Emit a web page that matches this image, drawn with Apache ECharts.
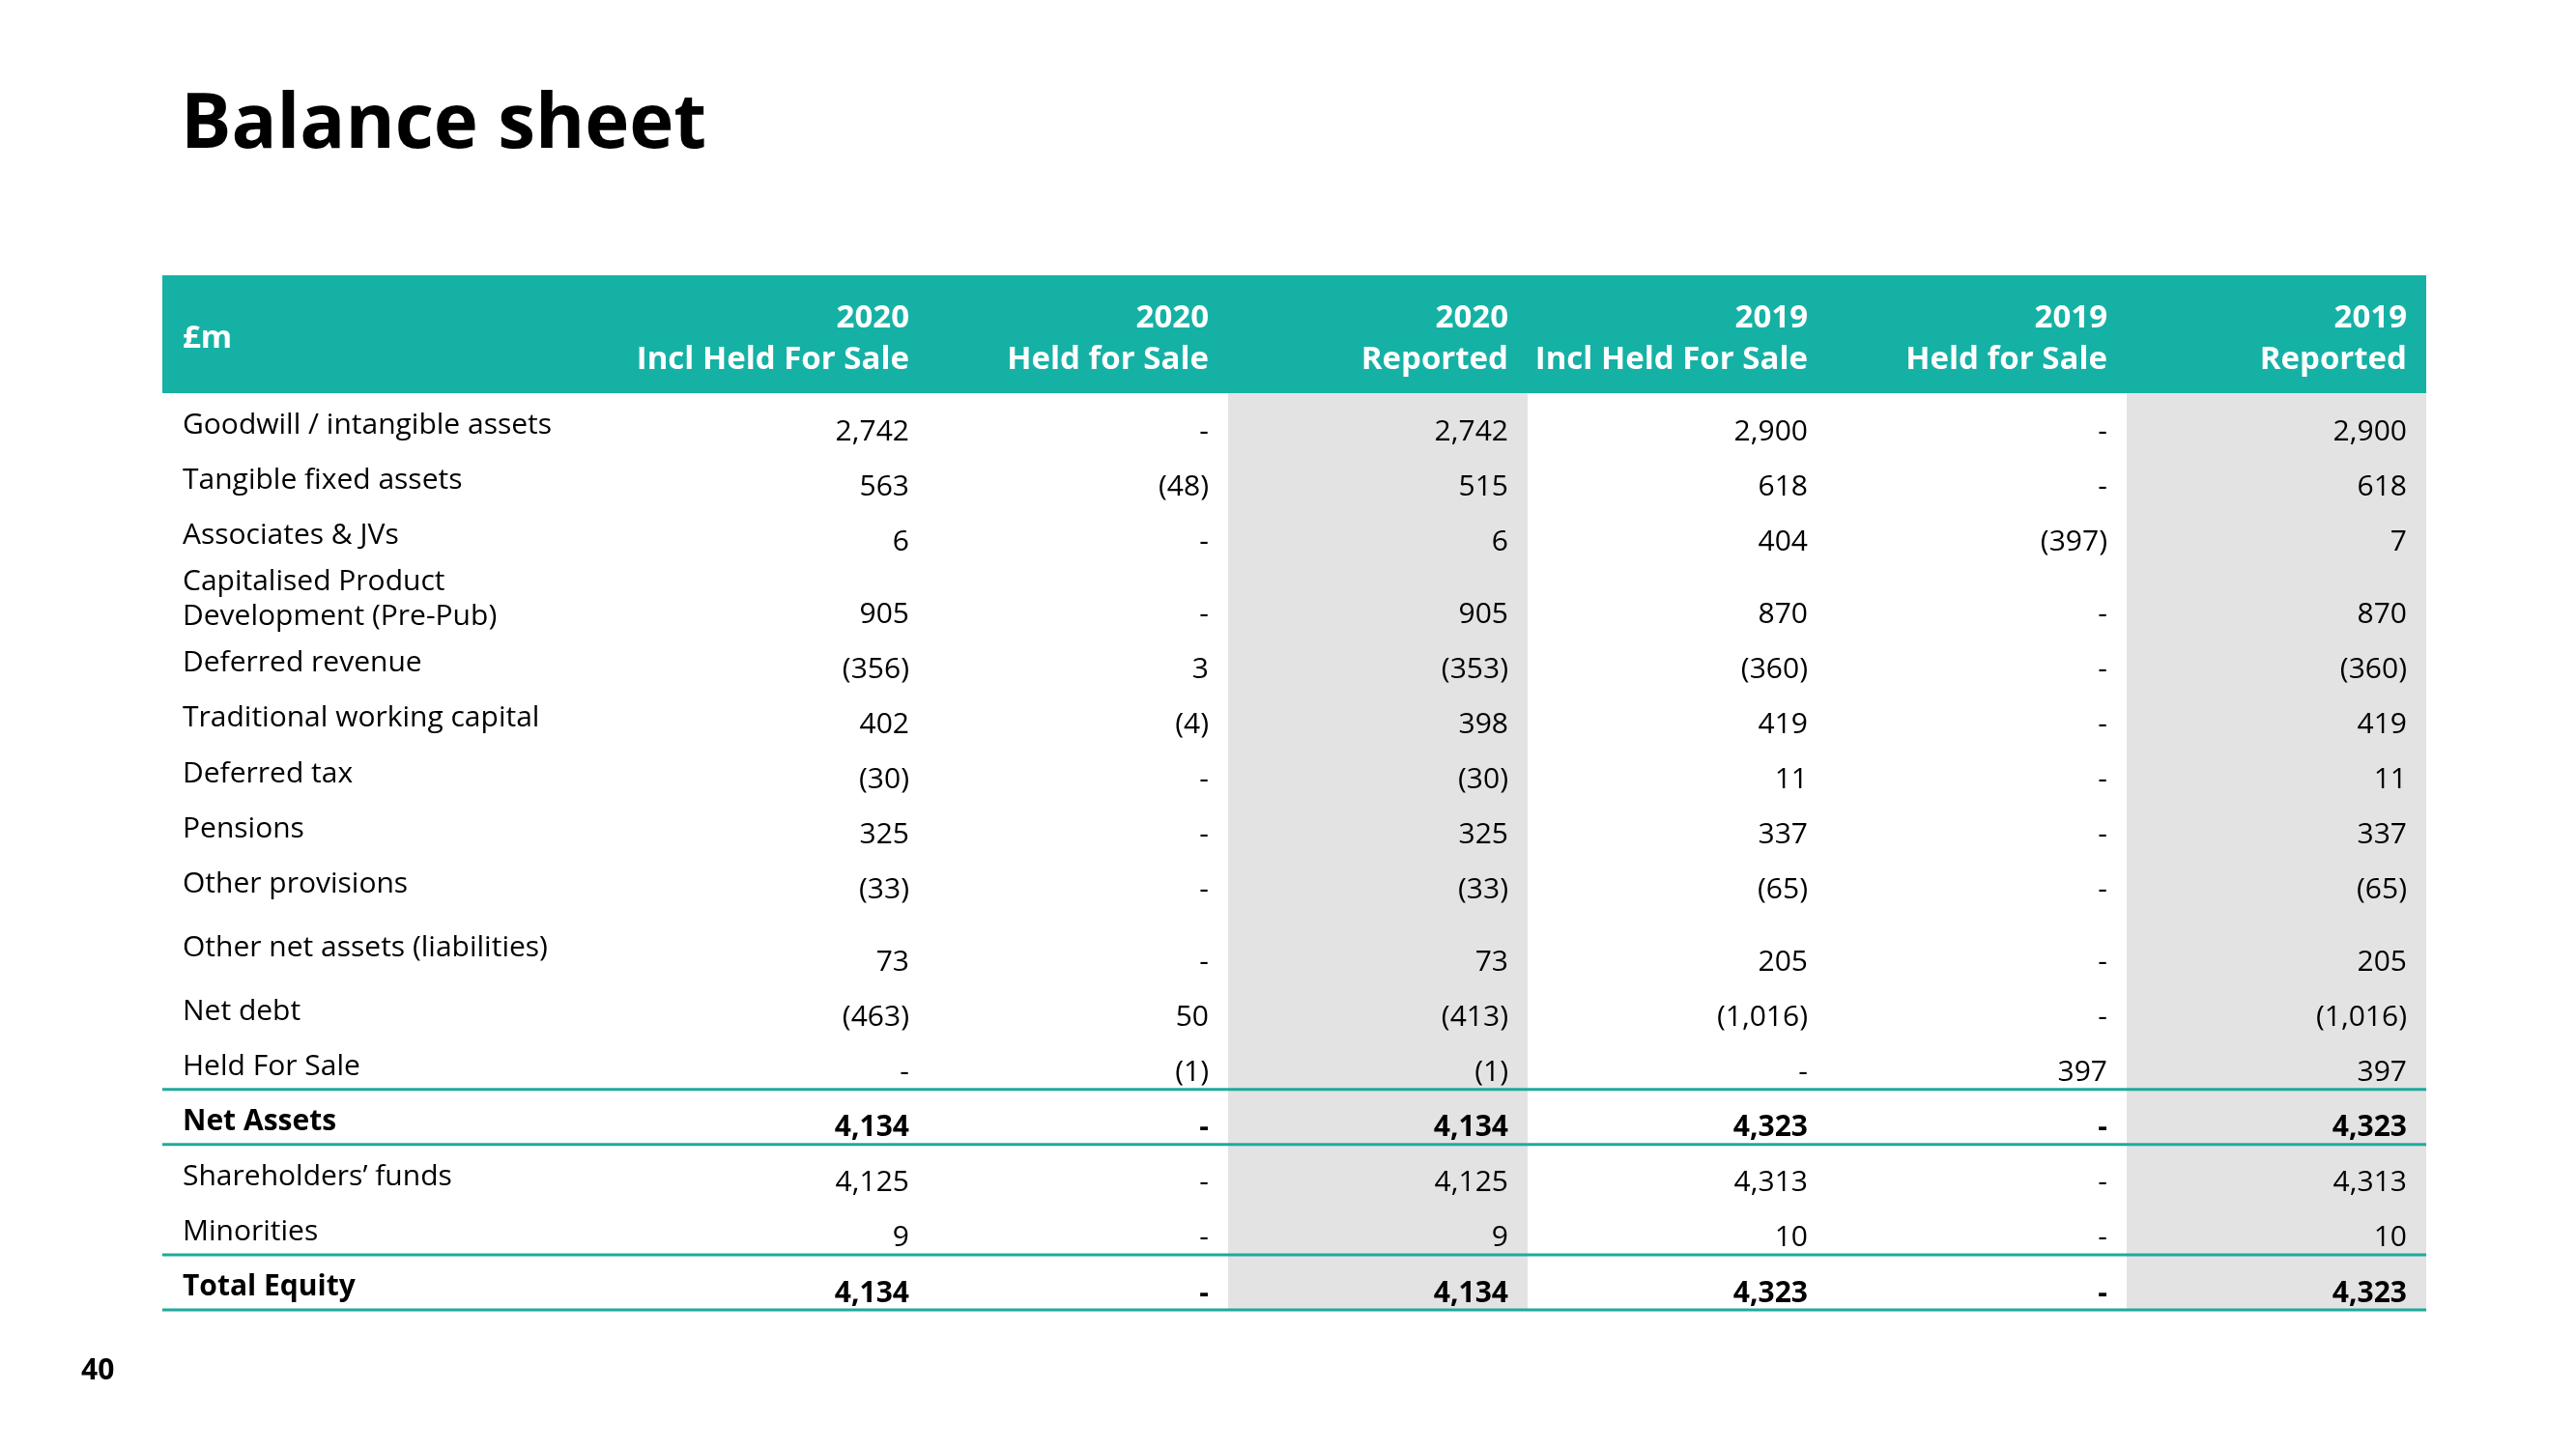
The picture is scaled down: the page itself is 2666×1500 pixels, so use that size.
<!DOCTYPE html>
<html>
<head>
<meta charset="utf-8">
<title>Balance sheet</title>
<script src="https://cdn.jsdelivr.net/npm/echarts@6/dist/echarts.min.js"></script>
<style>
  html, body { margin: 0; padding: 0; background: #fff; }
  #main { width: 2666px; height: 1500px; }
</style>
</head>
<body>
<div id="main"></div>
<script>
// column headers
const headers = [
  "£m",
  "2020\nIncl Held For Sale",
  "2020\nHeld for Sale",
  "2020\nReported",
  "2019\nIncl Held For Sale",
  "2019\nHeld for Sale",
  "2019\nReported",
];

const rowLabels = [
  "Goodwill / intangible assets",
  "Tangible fixed assets",
  "Associates & JVs",
  "Capitalised Product\nDevelopment (Pre-Pub)",
  "Deferred revenue",
  "Traditional working capital",
  "Deferred tax",
  "Pensions",
  "Other provisions",
  "Other net assets (liabilities)",
  "Net debt",
  "Held For Sale",
  "Net Assets",
  "Shareholders’ funds",
  "Minorities",
  "Total Equity",
];

// £m, 0 shown as "-", negatives in brackets
const inclHeld2020 = [2742, 563, 6, 905, -356, 402, -30, 325, -33, 73, -463, 0, 4134, 4125, 9, 4134];
const heldForSale2020 = [0, -48, 0, 0, 3, -4, 0, 0, 0, 0, 50, -1, 0, 0, 0, 0];
const reported2020 = [2742, 515, 6, 905, -353, 398, -30, 325, -33, 73, -413, -1, 4134, 4125, 9, 4134];
const inclHeld2019 = [2900, 618, 404, 870, -360, 419, 11, 337, -65, 205, -1016, 0, 4323, 4313, 10, 4323];
const heldForSale2019 = [0, 0, -397, 0, 0, 0, 0, 0, 0, 0, 0, 397, 0, 0, 0, 0];
const reported2019 = [2900, 618, 7, 870, -360, 419, 11, 337, -65, 205, -1016, 397, 4323, 4313, 10, 4323];

const valueColumns = [inclHeld2020, heldForSale2020, reported2020, inclHeld2019, heldForSale2019, reported2019];

const boldRows = [12, 15];        // Net Assets, Total Equity
const ruleAfterRows = [11, 12, 14, 15];
const shadedCols = [3, 6];        // the "Reported" columns

// layout (axis units)
const colWidths = [483, 310, 310, 310, 310, 310, 310];
const headerHeight = 122;
const rowHeights = rowLabels.map((l, i) => (i === 3 || i === 9 ? 75 : 57));

const TEAL = "#16b1a5";
const RULE = "#1fa99e";
const GREY = "#e3e3e3";
const FONT = "'Open Sans', 'Noto Sans', sans-serif";

const colStart = [0];
colWidths.forEach((w, i) => colStart.push(colStart[i] + w));
const rowStart = [headerHeight];
rowHeights.forEach((h, i) => rowStart.push(rowStart[i] + h));
const totalW = colStart[colStart.length - 1];
const totalH = rowStart[rowStart.length - 1];

function fmt(v) {
  if (v === 0) return "-";
  const s = Math.abs(v).toLocaleString("en-GB");
  return v < 0 ? "(" + s + ")" : s;
}

// cells: [col, row, text]  (row -1 = header)
const cells = [];
headers.forEach((h, c) => cells.push([c, -1, h]));
rowLabels.forEach((l, r) => {
  cells.push([0, r, l]);
  valueColumns.forEach((col, c) => cells.push([c + 1, r, fmt(col[r])]));
});

const myChart = echarts.init(document.getElementById("main"));

myChart.setOption({
  animation: false,
  backgroundColor: "#fff",
  title: {
    text: "Balance sheet",
    left: 182,
    top: 87,
    textStyle: { fontFamily: FONT, fontSize: 78, fontWeight: "bold", color: "#000" },
  },
  graphic: [
    {
      type: "text",
      left: 84,
      top: 1404,
      style: { text: "40", fontFamily: FONT, fontSize: 30, fontWeight: "bold", fill: "#000" },
    },
  ],
  grid: { left: 168, right: 155, top: 285, bottom: 144 },
  xAxis: { type: "value", min: 0, max: totalW, show: false },
  yAxis: { type: "value", min: 0, max: totalH, inverse: true, show: false },
  series: [
    {
      // header band + shaded columns
      type: "custom",
      data: [[-1], ...shadedCols.map((c) => [c])],
      renderItem(params, api) {
        const c = api.value(0);
        let p0, p1, fill;
        if (c < 0) {
          p0 = api.coord([0, 0]);
          p1 = api.coord([totalW, headerHeight]);
          fill = TEAL;
        } else {
          p0 = api.coord([colStart[c], headerHeight]);
          p1 = api.coord([colStart[c + 1], totalH]);
          fill = GREY;
        }
        return {
          type: "rect",
          shape: { x: p0[0], y: p0[1], width: p1[0] - p0[0], height: p1[1] - p0[1] },
          style: { fill: fill },
        };
      },
      z: 1,
    },
    {
      // rules under rows
      type: "custom",
      data: ruleAfterRows.map((r) => [r]),
      renderItem(params, api) {
        const r = api.value(0);
        const p0 = api.coord([0, rowStart[r + 1]]);
        const p1 = api.coord([totalW, rowStart[r + 1]]);
        return {
          type: "line",
          shape: { x1: p0[0], y1: p0[1], x2: p1[0], y2: p1[1] },
          style: { stroke: RULE, lineWidth: 3 },
        };
      },
      z: 3,
    },
    {
      // cell texts
      type: "custom",
      data: cells,
      dimensions: ["col", "row", { name: "text", type: "ordinal" }],
      renderItem(params, api) {
        const cell = cells[params.dataIndex];
        const c = cell[0];
        const r = cell[1];
        const y0 = r < 0 ? 0 : rowStart[r];
        const y1 = r < 0 ? headerHeight : rowStart[r + 1];
        const p0 = api.coord([colStart[c], y0]);
        const p1 = api.coord([colStart[c + 1], y1]);
        const isHeader = r < 0;
        const bold = isHeader || boldRows.includes(r);
        let x, y;
        if (c === 0) {
          x = p0[0] + 21;
          y = (p0[1] + p1[1]) / 2 + 5;
        } else {
          x = p1[0] - 20;
          y = isHeader ? (p0[1] + p1[1]) / 2 + 5 : p1[1] - 17;
        }
        return {
          type: "text",
          style: {
            x: x,
            y: y,
            text: cell[2],
            fill: isHeader ? "#fff" : "#000",
            fontFamily: FONT,
            fontSize: isHeader ? 33 : 30,
            fontWeight: bold ? "bold" : "normal",
            lineHeight: isHeader ? 43 : 36,
            align: c === 0 ? "left" : "right",
            verticalAlign: "middle",
          },
        };
      },
      z: 4,
    },
  ],
});
</script>
</body>
</html>
